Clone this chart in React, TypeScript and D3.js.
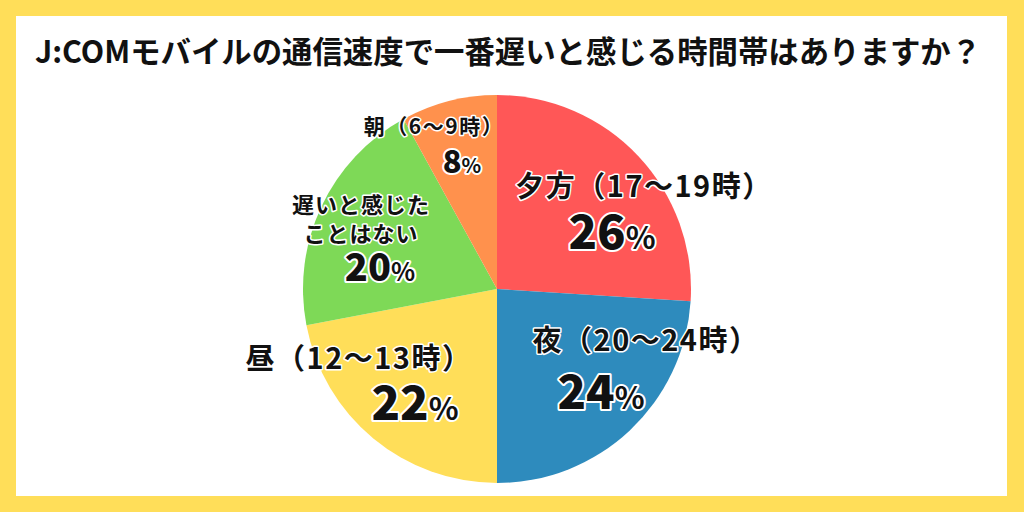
import React from "react";
import * as d3 from "d3";

const title = "J:COMモバイルの通信速度で一番遅いと感じる時間帯はありますか？";
const categories = ["夕方（17～19時）", "夜（20～24時）", "昼（12～13時）", "遅いと感じたことはない", "朝（6～9時）"];
const labelLines = [["夕方（17～19時）"], ["夜（20～24時）"], ["昼（12～13時）"], ["遅いと感じた", "ことはない"], ["朝（6～9時）"]];
const values = [26, 24, 22, 20, 8];
const colors = ["#FF5757", "#2E8BBD", "#FFDE59", "#7ED957", "#FF914D"];

// label layout (offsets from pie centre), separate from data
const layout = [
  { lx: 147, ly: -103, lfs: 29, ls: 1.5, px: 115, py: -57, pfs: 47 },
  { lx: 149, ly: 51, lfs: 29, ls: 1.5, px: 104, py: 103, pfs: 47 },
  { lx: -138, ly: 69, lfs: 29, ls: 1.5, px: -82, py: 114, pfs: 47 },
  { lx: -136, ly: -84, lfs: 22, ls: 1, px: -117, py: -22, pfs: 38 },
  { lx: -63, ly: -163, lfs: 21, ls: 1.5, px: -35, py: -127, pfs: 31 },
];

const W = 1024;
const H = 512;
const cx = 497;
const cy = 289;
const R = 194;
const FONT = "'Noto Sans CJK JP', 'Noto Sans', sans-serif";

export default function App() {
  const pie = d3.pie<number>().sort(null).value((d) => d);
  const arcs = pie(values);
  const arc = d3.arc<d3.PieArcDatum<number>>().innerRadius(0).outerRadius(R);
  const outline = { stroke: "#fff", strokeWidth: 3, paintOrder: "stroke" as const, strokeLinejoin: "round" as const };
  return (
    <svg width={W} height={H} style={{ position: "absolute", left: 0, top: 0 }} fontFamily={FONT}>
      <rect x={0} y={0} width={W} height={H} fill="#FFDE59" />
      <rect x={16} y={16} width={991} height={480} fill="#ffffff" />
      <text x={508} y={63} textAnchor="middle" fontSize={30.4} fontWeight={700} fill="#111">
        {title}
      </text>
      <g transform={`translate(${cx},${cy})`}>
        {arcs.map((a, i) => (
          <path key={categories[i]} d={arc(a) || ""} fill={colors[i]} />
        ))}
        {arcs.map((a, i) => {
          const L = layout[i];
          const lines = labelLines[i];
          const lh = L.lfs * 1.3;
          return (
            <g key={"l" + i}>
              {lines.map((t, j) => (
                <text
                  key={j}
                  x={L.lx}
                  y={L.ly + j * lh + L.lfs * 0.38}
                  textAnchor="middle"
                  fontSize={L.lfs}
                  fontWeight={700}
                  letterSpacing={L.ls}
                  fill="#111"
                  {...outline}
                >
                  {t}
                </text>
              ))}
              <text
                x={L.px}
                y={L.py + L.pfs * 0.36}
                textAnchor="middle"
                fontSize={L.pfs}
                fontWeight={900}
                fill="#111"
                {...outline}
                strokeWidth={4}
              >
                {values[i]}
                <tspan fontSize={L.pfs * 0.66} fontWeight={700}>%</tspan>
              </text>
            </g>
          );
        })}
      </g>
    </svg>
  );
}
